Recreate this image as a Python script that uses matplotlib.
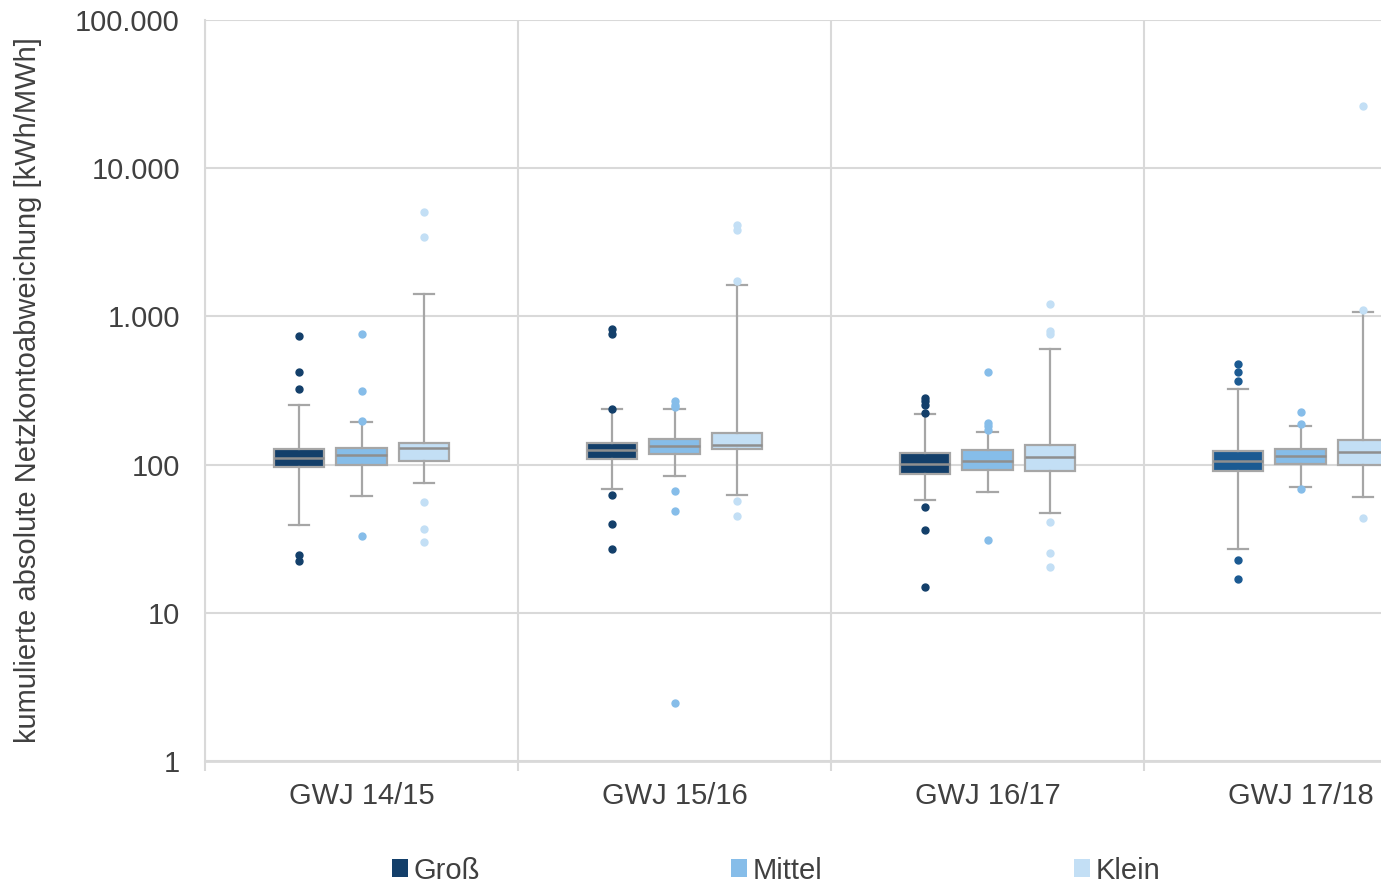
import matplotlib
matplotlib.use("Agg")
import matplotlib.pyplot as plt
from matplotlib.patches import Patch
from matplotlib.ticker import FixedLocator, NullLocator

plt.rcParams['font.family'] = ['Liberation Sans', 'DejaVu Sans']

categories = ["GWJ 14/15", "GWJ 15/16", "GWJ 16/17", "GWJ 17/18"]
series = ["Groß", "Mittel", "Klein"]

gross_q1 = [96, 109, 86, 90]
gross_med = [111, 126, 101, 106]
gross_q3 = [128, 139, 119, 123]
gross_whislo = [39, 68, 58, 27]
gross_whishi = [254, 238, 218, 325]
gross_fliers = [[736, 421, 323, 24.6, 22.2],
                [826, 755, 238, 62, 40, 27],
                [282, 268, 254, 223, 52, 36, 15],
                [474, 423, 364, 22.7, 17]]

mittel_q1 = [100, 117, 92.5, 101.6]
mittel_med = [116, 133, 105, 115]
mittel_q3 = [130, 150, 125, 128]
mittel_whislo = [61, 84, 65, 71]
mittel_whishi = [194, 238, 166, 183]
mittel_fliers = [[755, 316, 198, 33],
                 [268, 254, 245, 66, 49, 2.45],
                 [420, 191, 181, 172, 31],
                 [227, 189, 68.5]]

klein_q1 = [105, 128, 91, 100]
klein_med = [130, 136, 112, 121]
klein_q3 = [140, 164, 135, 146]
klein_whislo = [75, 62, 47, 60]
klein_whishi = [1415, 1637, 605, 1069]
klein_fliers = [[5040, 3420, 56, 37, 30],
                [4120, 3830, 1732, 56.5, 45],
                [1205, 795, 755, 40.8, 25.3, 20.4],
                [26360, 1098, 43.4]]

ytick_values = [1, 10, 100, 1000, 10000, 100000]
ytick_labels = ["1", "10", "100", "1.000", "10.000", "100.000"]

gross_colors = ["#133f6a", "#133f6a", "#133f6a", "#1b5a92"]
mittel_color = "#86bde9"
klein_color = "#c3dff5"
text_color = "#404040"
grid_color = "#d9d9d9"
fs = 21

fig = plt.figure(figsize=(13.81, 8.82), dpi=100)
ax = fig.add_axes([205 / 1381, 121 / 882, 1252 / 1381, 741 / 882])

all_series = [
    (gross_q1, gross_med, gross_q3, gross_whislo, gross_whishi, gross_fliers, gross_colors, -0.2),
    (mittel_q1, mittel_med, mittel_q3, mittel_whislo, mittel_whishi, mittel_fliers, [mittel_color] * 4, 0.0),
    (klein_q1, klein_med, klein_q3, klein_whislo, klein_whishi, klein_fliers, [klein_color] * 4, 0.2),
]

for q1s, meds, q3s, los, his, fls, cols, off in all_series:
    for i in range(len(categories)):
        st = [dict(q1=q1s[i], med=meds[i], q3=q3s[i], whislo=los[i], whishi=his[i], fliers=fls[i])]
        ax.bxp(st, positions=[i + off], widths=0.16, capwidths=0.065, patch_artist=True,
               showfliers=True, manage_ticks=False,
               boxprops=dict(facecolor=cols[i], edgecolor="#a6a6a6", linewidth=1.6),
               medianprops=dict(color="#8f8f8f", linewidth=1.8),
               whiskerprops=dict(color="#a6a6a6", linewidth=1.6),
               capprops=dict(color="#a6a6a6", linewidth=1.6),
               flierprops=dict(marker="o", markerfacecolor=cols[i], markeredgecolor=cols[i],
                               markersize=5, linestyle="none"))

ax.set_yscale("log")
ax.set_ylim(1, 100000)
ax.set_xlim(-0.5, 3.5)
ax.yaxis.set_major_locator(FixedLocator(ytick_values))
ax.set_yticklabels(ytick_labels)
ax.yaxis.set_minor_locator(NullLocator())
ax.set_xticks(range(len(categories)))
ax.set_xticklabels(categories)
ax.set_xticks([-0.5, 0.5, 1.5, 2.5, 3.5], minor=True)

ax.tick_params(axis="y", length=0, pad=18, labelsize=fs, labelcolor=text_color)
ax.tick_params(axis="x", which="major", length=0, pad=15, labelsize=fs, labelcolor=text_color)
ax.tick_params(axis="x", which="minor", length=7, width=1.5, color=grid_color)

ax.set_axisbelow(True)
ax.grid(True, axis="y", which="major", color=grid_color, linewidth=1.5)
ax.grid(True, axis="x", which="minor", color=grid_color, linewidth=1.5)
for s in ["top", "right"]:
    ax.spines[s].set_visible(False)
ax.spines["left"].set_color(grid_color)
ax.spines["left"].set_linewidth(1.5)
ax.spines["bottom"].set_color(grid_color)
ax.spines["bottom"].set_linewidth(2)

ax.set_ylabel("kumulierte absolute Netzkontoabweichung [kWh/MWh]", fontsize=fs, color=text_color)
ax.yaxis.set_label_coords(-(205 - 42) / 1252, 0.5)

handles = [Patch(facecolor=gross_colors[0], edgecolor="none"),
           Patch(facecolor=mittel_color, edgecolor="none"),
           Patch(facecolor=klein_color, edgecolor="none")]
leg = fig.legend(handles, series, loc="center", bbox_to_anchor=(0.562, 0.013), ncol=3,
                 frameon=False, fontsize=fs, handlelength=0.55, handleheight=0.55,
                 handletextpad=0.2, columnspacing=8.6, borderaxespad=0, borderpad=0)
for t in leg.get_texts():
    t.set_color(text_color)

fig.savefig("out.png", dpi=100)
